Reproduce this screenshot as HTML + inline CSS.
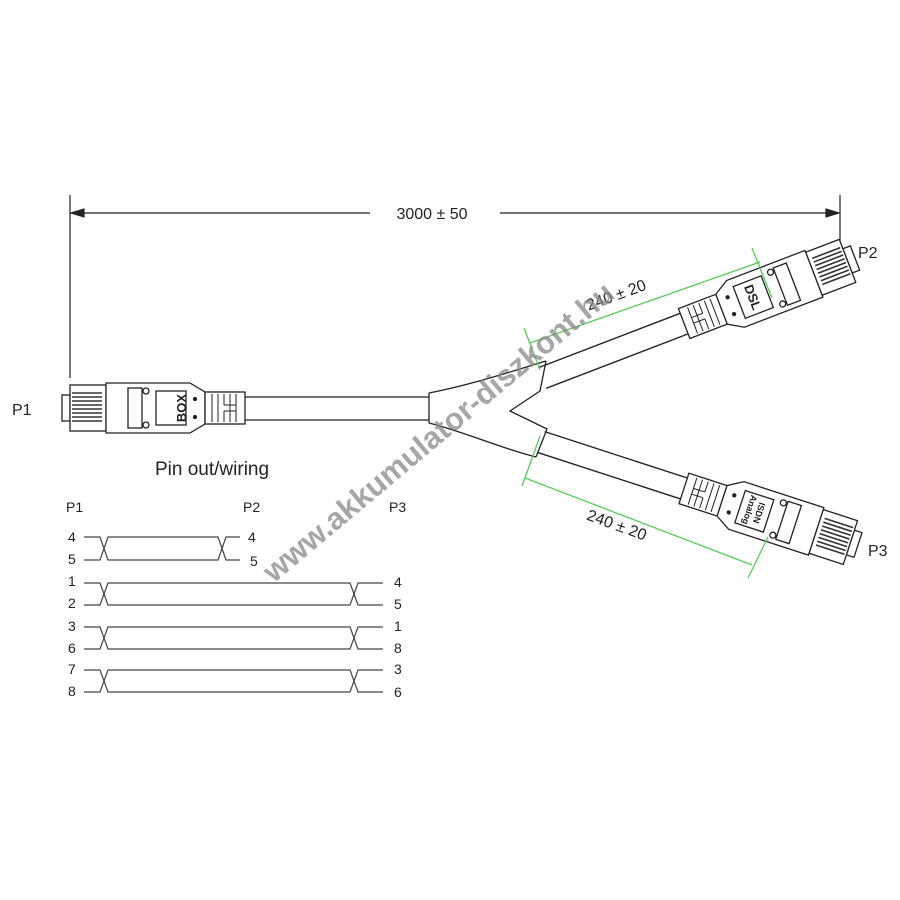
<!DOCTYPE html>
<html><head><meta charset="utf-8"><style>
html,body{margin:0;padding:0;background:#fff;}
svg{display:block;}
text{font-family:"Liberation Sans",sans-serif;}
</style></head><body>
<svg width="900" height="900" viewBox="0 0 900 900" xmlns="http://www.w3.org/2000/svg">
<defs>
<g id="conn" fill="#fff" stroke="#222" stroke-width="1.3">
  <rect x="0" y="-13" width="8" height="26"/>
  <rect x="8" y="-23" width="36" height="46"/>
  <g stroke="#333" stroke-width="1.6">
    <line x1="10" y1="-15" x2="40" y2="-15"/><line x1="10" y1="-11" x2="40" y2="-11"/>
    <line x1="10" y1="-7" x2="40" y2="-7"/><line x1="10" y1="-3" x2="40" y2="-3"/>
    <line x1="10" y1="1" x2="40" y2="1"/><line x1="10" y1="5" x2="40" y2="5"/>
    <line x1="10" y1="9" x2="40" y2="9"/><line x1="10" y1="13" x2="40" y2="13"/>
  </g>
  <path d="M44,-25 H128 L143,-16 V16 L128,25 H44 Z"/>
  <rect x="66" y="-20" width="14" height="40"/>
  <circle cx="84" cy="-17" r="3"/><circle cx="84" cy="17" r="3"/>
  <rect x="94" y="-17" width="30" height="34"/>
  <circle cx="133" cy="-9" r="1.5" fill="#222"/><circle cx="133" cy="9" r="1.5" fill="#222"/>
  <rect x="143" y="-16" width="40" height="32"/>
  <g stroke-width="1">
    <line x1="150" y1="-14" x2="150" y2="14"/><line x1="156" y1="-14" x2="156" y2="14"/>
    <line x1="162" y1="-14" x2="162" y2="-3"/><line x1="162" y1="3" x2="162" y2="14"/>
    <line x1="168" y1="-14" x2="168" y2="14"/><line x1="174" y1="-14" x2="174" y2="14"/>
    <line x1="162" y1="-3" x2="174" y2="-3"/><line x1="162" y1="3" x2="174" y2="3"/>
  </g>
</g>
</defs>

<!-- overall dimension -->
<g stroke="#222" stroke-width="1.2" fill="#222">
  <line x1="70" y1="195" x2="70" y2="378"/>
  <line x1="840" y1="195" x2="840" y2="243"/>
  <line x1="72" y1="213" x2="370" y2="213"/>
  <line x1="500" y1="213" x2="838" y2="213"/>
  <path d="M71,213 L84,209 L84,217 Z"/>
  <path d="M839,213 L826,209 L826,217 Z"/>
</g>
<text x="432" y="219" font-size="16" text-anchor="middle" fill="#222">3000 ± 50</text>

<!-- P1 -->
<text x="12" y="415" font-size="16" fill="#222">P1</text>
<use href="#conn" transform="translate(62,408)"/>
<text transform="translate(181,408) rotate(-90)" font-size="13" font-weight="bold" text-anchor="middle" fill="#222" dy="5">BOX</text>
<g stroke="#222" stroke-width="1.3" fill="none">
  <line x1="245" y1="397" x2="429" y2="397"/>
  <line x1="245" y1="420" x2="429" y2="420"/>
  <!-- splitter -->
  <path d="M429,393 V423"/>
  <path d="M429,393 C470,385 510,372 546,361"/>
  <path d="M429,423 C465,432 500,448 536,457"/>
  <path d="M546,361 L540,391 L510,411 L547,429 L536,457"/>
</g>

<!-- P2 -->
<g transform="translate(855,258) rotate(-21)">
  <use href="#conn" transform="scale(-1,1)"/>
  <text transform="translate(-109,0) rotate(90)" font-size="13" font-weight="bold" text-anchor="middle" fill="#222" dy="5">DSL</text>
  <g stroke="#222" stroke-width="1.4">
    <line x1="-183" y1="-11" x2="-335" y2="-11"/>
    <line x1="-183" y1="11" x2="-335" y2="11"/>
  </g>
</g>
<text x="858" y="258" font-size="16" fill="#222">P2</text>

<!-- P3 -->
<g transform="translate(858,545) rotate(18)">
  <use href="#conn" transform="scale(-1,1)"/>
  <text transform="translate(-109,0) rotate(90)" font-size="9" font-weight="bold" text-anchor="middle" fill="#222" dy="-2">ISDN</text>
  <text transform="translate(-109,0) rotate(90)" font-size="9" font-weight="bold" text-anchor="middle" fill="#222" dy="8">Analog</text>
  <g stroke="#222" stroke-width="1.4">
    <line x1="-183" y1="-11" x2="-333" y2="-11"/>
    <line x1="-183" y1="11" x2="-333" y2="11"/>
  </g>
</g>
<text x="868" y="556" font-size="16" fill="#222">P3</text>

<!-- green dims -->
<g stroke="#5c5" stroke-width="1.3" fill="#5c5">
  <line x1="530" y1="343" x2="760" y2="262"/>
  <line x1="524" y1="328" x2="540" y2="370"/>
  <line x1="752" y1="248" x2="772" y2="298"/>
  <line x1="525" y1="478" x2="752" y2="565"/>
  <line x1="540" y1="436" x2="522" y2="486"/>
  <line x1="768" y1="537" x2="748" y2="578"/>
</g>
<text transform="translate(618,300) rotate(-20)" font-size="16" text-anchor="middle" fill="#222">240 ± 20</text>
<text transform="translate(615,530) rotate(20)" font-size="16" text-anchor="middle" fill="#222">240 ± 20</text>

<text x="155" y="475" font-size="19" fill="#222">Pin out/wiring</text>

<!-- wiring -->
<g font-size="14" fill="#222">
  <text x="66" y="512">P1</text><text x="243" y="512">P2</text><text x="389" y="512">P3</text>
  <text x="68" y="542">4</text><text x="68" y="564">5</text>
  <text x="68" y="586">1</text><text x="68" y="608">2</text>
  <text x="68" y="631">3</text><text x="68" y="653">6</text>
  <text x="68" y="674">7</text><text x="68" y="696">8</text>
  <text x="248" y="542">4</text><text x="250" y="566">5</text>
  <text x="394" y="587">4</text><text x="394" y="609">5</text>
  <text x="394" y="631">1</text><text x="394" y="653">8</text>
  <text x="394" y="674">3</text><text x="394" y="697">6</text>
</g>
<g stroke="#444" stroke-width="1.2" fill="none">
  <path d="M84,537 H100 L108,560 H218 L226,537 H240"/>
  <path d="M84,560 H100 L108,537 H218 L226,560 H240"/>
  <path d="M84,583 H100 L108,605 H350 L358,583 H383"/>
  <path d="M84,605 H100 L108,583 H350 L358,605 H383"/>
  <path d="M84,627 H100 L108,649 H350 L358,627 H383"/>
  <path d="M84,649 H100 L108,627 H350 L358,649 H383"/>
  <path d="M84,670 H100 L108,692 H350 L358,670 H383"/>
  <path d="M84,692 H100 L108,670 H350 L358,692 H383"/>
</g>

<!-- watermark -->
<text transform="translate(445,440) rotate(-40)" font-size="31" font-weight="bold" text-anchor="middle" fill="#888" fill-opacity="0.75">www.akkumulator-diszkont.hu</text>
</svg>
</body></html>
